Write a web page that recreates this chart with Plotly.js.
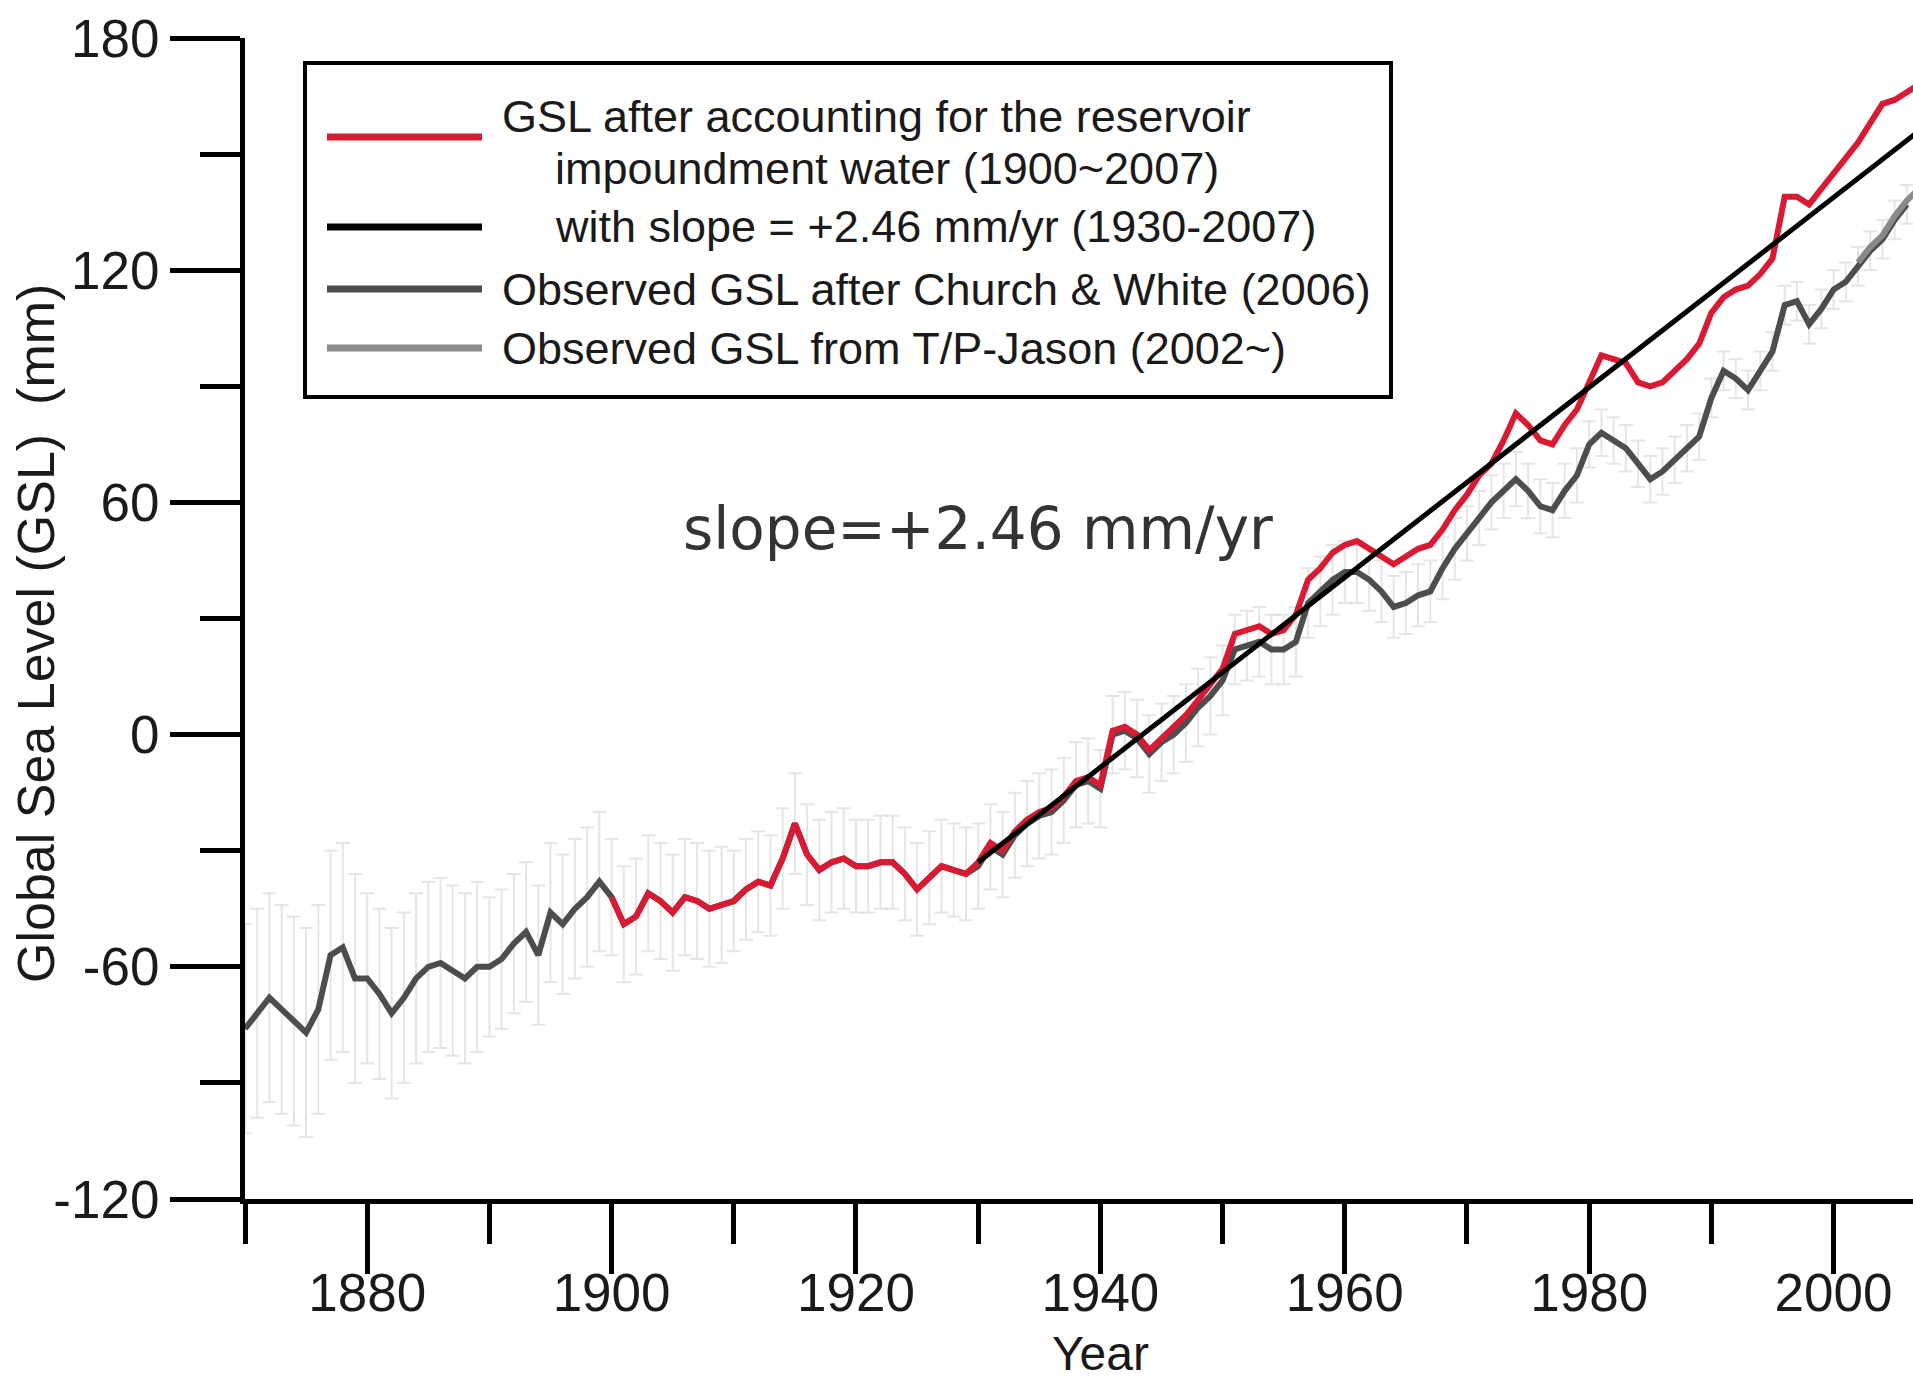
<!DOCTYPE html>
<html>
<head>
<meta charset="utf-8">
<script src="https://cdn.plot.ly/plotly-3.0.1.min.js"></script>
<style>
  html, body { margin: 0; padding: 0; background: #ffffff; }
  #chart { width: 1913px; height: 1382px; }
</style>
</head>
<body>
<div id="chart"></div>
<script>
// ---- Data ----
// Observed GSL after Church & White (2006), annual, 1870-2006 (mm)
const cwStart = 1870;
const cwValues = [
  -76, -72, -68, -71, -74, -77, -71, -57, -55, -63,   // 1870-1879
  -63, -67, -72, -68, -63, -60, -59, -61, -63, -60,   // 1880-1889
  -60, -58, -54, -51, -57, -46, -49, -45, -42, -38,   // 1890-1899
  -42, -49, -47, -41, -43, -46, -42, -43, -45, -44,   // 1900-1909
  -43, -40, -38, -39, -32, -23, -31, -35, -33, -32,   // 1910-1919
  -34, -34, -33, -33, -36, -40, -37, -34, -35, -36,   // 1920-1929
  -34, -29, -31, -26, -23, -21, -20, -17, -13, -12,   // 1930-1939
  -14,   0,   1,  -1,  -5,  -2,   0,   3,   7,  10,   // 1940-1949
   14,  22,  23,  24,  22,  22,  24,  34,  37,  40,   // 1950-1959
   42,  42,  40,  37,  33,  34,  36,  37,  43,  48,   // 1960-1969
   52,  56,  60,  63,  66,  63,  59,  58,  63,  67,   // 1970-1979
   75,  78,  76,  74,  70,  66,  68,  71,  74,  77,   // 1980-1989
   87,  94,  92,  89,  94,  99, 111, 112, 106, 110,   // 1990-1999
  115, 117, 121, 125, 128, 133, 137                   // 2000-2006
];
// Uncertainty (half range, mm) of the Church & White curve
const cwError = [
  27, 27, 27, 27, 27, 27, 27, 27, 27, 27,
  22, 22, 22, 22, 22, 22, 22, 22, 22, 22,
  18, 18, 18, 18, 18, 18, 18, 18, 18, 18,
  15, 15, 15, 15, 15, 15, 15, 15, 15, 15,
  13, 13, 13, 13, 13, 13, 13, 13, 13, 13,
  12, 12, 12, 12, 12, 12, 12, 12, 12, 12,
  11, 11, 11, 11, 11, 11, 11, 11, 11, 11,
  10, 10, 10, 10, 10, 10, 10, 10, 10, 10,
   9,  9,  9,  9,  9,  9,  9,  9,  9,  9,
   8,  8,  8,  8,  8,  8,  8,  8,  8,  8,
   7,  7,  7,  7,  7,  7,  7,  7,  7,  7,
   6,  6,  6,  6,  6,  6,  6,  6,  6,  6,
   5,  5,  5,  5,  5,  5,  5,  5,  5,  5,
   5,  5,  5,  5,  5,  5,  5
];
// GSL after accounting for the reservoir impoundment water, 1900-2007 (mm)
const resStart = 1900;
const resValues = [
  -42, -49, -47, -41, -43, -46, -42, -43, -45, -44,   // 1900-1909
  -43, -40, -38, -39, -32, -23, -31, -35, -33, -32,   // 1910-1919
  -34, -34, -33, -33, -36, -40, -37, -34, -35, -36,   // 1920-1929
  -33, -28, -30, -25, -22, -20, -19, -16, -12, -11,   // 1930-1939
  -13,   1,   2,   0,  -4,  -1,   2,   5,   9,  13,   // 1940-1949
   17,  26,  27,  28,  26,  27,  31,  40,  43,  47,   // 1950-1959
   49,  50,  48,  46,  44,  46,  48,  49,  53,  58,   // 1960-1969
   62,  67,  70,  76,  83,  80,  76,  75,  80,  84,   // 1970-1979
   91,  98,  97,  96,  91,  90,  91,  94,  97, 101,   // 1980-1989
  109, 113, 115, 116, 119, 123, 139, 139, 137, 141,   // 1990-1999
  145, 149, 153, 158, 163, 164, 166, 168              // 2000-2007
];
// Observed GSL from T/P-Jason (2002~) (mm)
const tpYears = [2002, 2003, 2004, 2005, 2006, 2007];
const tpValues = [122, 126, 129, 134, 138, 141];
// Linear fit 1930-2007, slope = +2.46 mm/yr (end points)
const fitYears = [1930, 2007];
const fitValues = [-33, 156];

const xTickVals = [1880, 1900, 1920, 1940, 1960, 1980, 2000];
const xTickText = ['1880', '1900', '1920', '1940', '1960', '1980', '2000'];
const yTickVals = [-120, -60, 0, 60, 120, 180];
const yTickText = ['-120', '-60', '0', '60', '120', '180'];

// Legend entries (drawn as a boxed key, in reading order)
const legendNames = [
  'GSL after accounting for the reservoir',
  'impoundment water (1900~2007)',
  'with slope = +2.46 mm/yr (1930-2007)',
  'Observed GSL after Church &amp; White (2006)',
  'Observed GSL from T/P-Jason (2002~)'
];

const COL_RES = '#d91a32', COL_FIT = '#000000', COL_CW = '#4d4d4d', COL_TP = '#8a8a8a';

const cwYears = cwValues.map((_, i) => cwStart + i);
const resYears = resValues.map((_, i) => resStart + i);

const SANS = '"Liberation Sans", Arial, Helvetica, sans-serif';

const traces = [
  {
    x: cwYears, y: cwValues, type: 'scatter', mode: 'markers',
    marker: {size: 1, opacity: 0},
    error_y: {type: 'data', array: cwError, visible: true, color: 'rgba(190,190,190,0.4)', thickness: 2, width: 7},
    showlegend: false, hoverinfo: 'skip'
  },
  { x: cwYears, y: cwValues, type: 'scatter', mode: 'lines', name: 'Observed GSL after Church & White (2006)',
    line: {color: COL_CW, width: 6}, showlegend: false },
  { x: tpYears, y: tpValues, type: 'scatter', mode: 'lines', name: 'Observed GSL from T/P-Jason (2002~)',
    line: {color: COL_TP, width: 6}, showlegend: false },
  { x: resYears, y: resValues, type: 'scatter', mode: 'lines', name: 'GSL after accounting for the reservoir impoundment water (1900~2007)',
    line: {color: COL_RES, width: 6}, showlegend: false },
  { x: fitYears, y: fitValues, type: 'scatter', mode: 'lines', name: 'with slope = +2.46 mm/yr (1930-2007)',
    line: {color: COL_FIT, width: 5}, showlegend: false }
];

// Pixel helpers for the key (plot area: left 245, top 38, width 1668, height 1161)
const PL = 245, PT = 38, PW = 1668, PH = 1161;
const px = v => (v - PL) / PW;
const py = v => (PT + PH - v) / PH;

const shapes = [
  {type: 'rect', xref: 'paper', yref: 'paper', x0: px(305), x1: px(1391), y0: py(63), y1: py(397),
   line: {color: '#000000', width: 4}, fillcolor: '#ffffff', layer: 'above'},
  {type: 'line', xref: 'paper', yref: 'paper', x0: px(327), x1: px(482), y0: py(137), y1: py(137),
   line: {color: COL_RES, width: 7}, layer: 'above'},
  {type: 'line', xref: 'paper', yref: 'paper', x0: px(327), x1: px(482), y0: py(227), y1: py(227),
   line: {color: COL_FIT, width: 7}, layer: 'above'},
  {type: 'line', xref: 'paper', yref: 'paper', x0: px(327), x1: px(482), y0: py(289), y1: py(289),
   line: {color: COL_CW, width: 7}, layer: 'above'},
  {type: 'line', xref: 'paper', yref: 'paper', x0: px(327), x1: px(482), y0: py(348), y1: py(348),
   line: {color: COL_TP, width: 7}, layer: 'above'}
];

const legendPos = [[500, 116], [553, 168], [553, 227], [500, 289], [500, 348]];
const legendAnn = legendNames.map((t, i) => ({
  text: t, xref: 'paper', yref: 'paper', x: px(legendPos[i][0]), y: py(legendPos[i][1]),
  xanchor: 'left', yanchor: 'middle', showarrow: false,
  font: {family: SANS, size: 45, color: '#1a1a1a'}
}));

const layout = {
  width: 1913, height: 1382,
  margin: {l: PL, r: 0, t: PT, b: 1382 - PT - PH, pad: 0},
  paper_bgcolor: '#ffffff', plot_bgcolor: '#ffffff',
  showlegend: false,
  xaxis: {
    range: [1870, 2006.5], showgrid: false, zeroline: false,
    showline: true, linecolor: '#000000', linewidth: 5,
    ticks: 'outside', ticklen: 70, tickwidth: 5, tickcolor: '#000000',
    tickmode: 'array', tickvals: xTickVals, ticktext: xTickText,
    ticklabelstandoff: -27,
    minor: {dtick: 10, tick0: 1870, ticks: 'outside', ticklen: 40, tickwidth: 5, tickcolor: '#000000', showgrid: false},
    tickfont: {family: SANS, size: 53, color: '#1a1a1a'},
    fixedrange: true
  },
  yaxis: {
    range: [-120, 180], showgrid: false, zeroline: false,
    showline: true, linecolor: '#000000', linewidth: 5,
    ticks: 'outside', ticklen: 70, tickwidth: 5, tickcolor: '#000000',
    tickmode: 'array', tickvals: yTickVals, ticktext: yTickText,
    minor: {dtick: 30, tick0: -120, ticks: 'outside', ticklen: 40, tickwidth: 5, tickcolor: '#000000', showgrid: false},
    tickfont: {family: SANS, size: 53, color: '#1a1a1a'},
    fixedrange: true
  },
  shapes: shapes,
  annotations: legendAnn.concat([
    {
      text: 'slope=+2.46 mm/yr', xref: 'x', yref: 'y', x: 1930, y: 53,
      showarrow: false, xanchor: 'center', yanchor: 'middle',
      font: {family: '"DejaVu Sans", Verdana, sans-serif', size: 58, color: '#333333'}
    },
    {
      text: 'Global Sea Level (GSL)\u00a0\u00a0(mm)', xref: 'paper', yref: 'paper',
      x: px(36), y: py(634), textangle: -90, showarrow: false,
      xanchor: 'center', yanchor: 'middle',
      font: {family: SANS, size: 52, color: '#1a1a1a'}
    },
    {
      text: 'Year', xref: 'x', yref: 'paper', x: 1940, y: py(1353),
      showarrow: false, xanchor: 'center', yanchor: 'middle',
      font: {family: SANS, size: 48, color: '#1a1a1a'}
    }
  ])
};

Plotly.newPlot('chart', traces, layout, {displayModeBar: false, staticPlot: true});
</script>
</body>
</html>
